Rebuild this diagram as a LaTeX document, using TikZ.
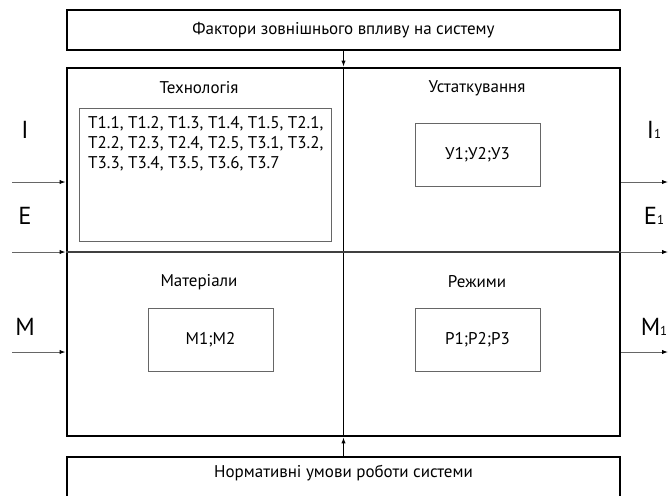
\documentclass[tikz,border=0pt]{standalone}
\usepackage{fontspec}
\setmainfont{PT Sans}
\usetikzlibrary{arrows.meta,positioning,calc}

\begin{document}
\begin{tikzpicture}[x=0.03cm, y=-0.03cm,
  %% -- box styles ---------------------------------------------------------
  %% wide : min-width 16.59 cm (outer frames, 553 px)
  wide/.style={draw=black, line width=2.5pt, minimum width=16.59cm,
               minimum height=1.2cm, font=\fontsize{14.5}{17}\selectfont},
  inbox/.style={draw=black!60, line width=0.7pt, minimum width=3.75cm,
                minimum height=1.9cm, font=\fontsize{14.5}{17}\selectfont},
  title/.style={font=\fontsize{14.5}{17}\selectfont},
  io/.style={font=\fontsize{21}{23}\selectfont},
  %% -- arrow styles -------------------------------------------------------
  arr/.style={-{Latex[length=5pt,width=3.6pt,color=black]}, line width=0.8pt, draw=black!60},
  divline/.style={line width=0.9pt}
]
\clip (0,0) rectangle (668,495);
\useasboundingbox (0,0) rectangle (668,495);

%% -- frames -----------------------------------------------------------------
\node[wide] (top) at (343.5,30) {Фактори зовнішнього впливу на систему};
\node[wide, minimum height=11.04cm] (sys) at (343.5,252) {};
\node[wide] (bot) at (343.5,477) {};
\node[title] (botlbl) at (343.5,473) {Нормативні умови роботи системи};

%% -- quadrant titles --------------------------------------------------------
\node[title] (tech) at (199,88)  {Технологія};
\node[title] (equip) at (477,88) {Устаткування};
\node[title] (mat) at (199,282)  {Матеріали};
\node[title] (mode) at (477,282) {Режими};

%% -- inner boxes ------------------------------------------------------------
\node[inbox, minimum width=7.56cm, minimum height=3.99cm] (techbox) at (205,174.5) {};
\node[title, anchor=north west, align=left, inner sep=0pt] (techlist) at (88,116)
  {T1.1, T1.2, T1.3, T1.4, T1.5, T2.1,\\
   T2.2, T2.3, T2.4, T2.5, T3.1, T3.2,\\
   T3.3, T3.4, T3.5, T3.6, T3.7};
\node[inbox] (equipbox) at (477.5,155) {У1;У2;У3};
\node[inbox] (matbox) at (210.5,340) {М1;М2};
\node[inbox] (modebox) at (477.5,340) {Р1;Р2;Р3};

%% -- dividers ---------------------------------------------------------------
\draw[divline] (sys.north) -- (sys.south);
\draw[divline, black!75] (sys.west) -- (sys.east);

%% -- inputs / outputs -------------------------------------------------------
\node[io] (inI) at (25,130) {I};
\node[io] (inE) at (25,216) {E};
\node[io] (inM) at (25,327) {M};
\node[io] (outI) at (654,130) {I{\fontsize{11}{11}\selectfont 1}};
\node[io] (outE) at (654,216) {E{\fontsize{11}{11}\selectfont 1}};
\node[io] (outM) at (654,327) {M{\fontsize{11}{11}\selectfont 1}};

\coordinate (srcI) at (12,182);
\coordinate (srcE) at (12,252);
\coordinate (srcM) at (12,352);
\coordinate (dstI) at (668,182);
\coordinate (dstE) at (668,252);
\coordinate (dstM) at (668,352);

\draw[arr] (srcI) -- (srcI -| sys.west);
\draw[arr] (srcE) -- (srcE -| sys.west);
\draw[arr] (srcM) -- (srcM -| sys.west);
\draw[arr] (dstI -| sys.east) -- (dstI);
\draw[arr] (dstE -| sys.east) -- (dstE);
\draw[arr] (dstM -| sys.east) -- (dstM);

%% -- external influences ----------------------------------------------------
\draw[arr, draw=black] (top.south) -- (sys.north);
\draw[arr, draw=black] (bot.north) -- (sys.south);

\end{tikzpicture}
\end{document}
